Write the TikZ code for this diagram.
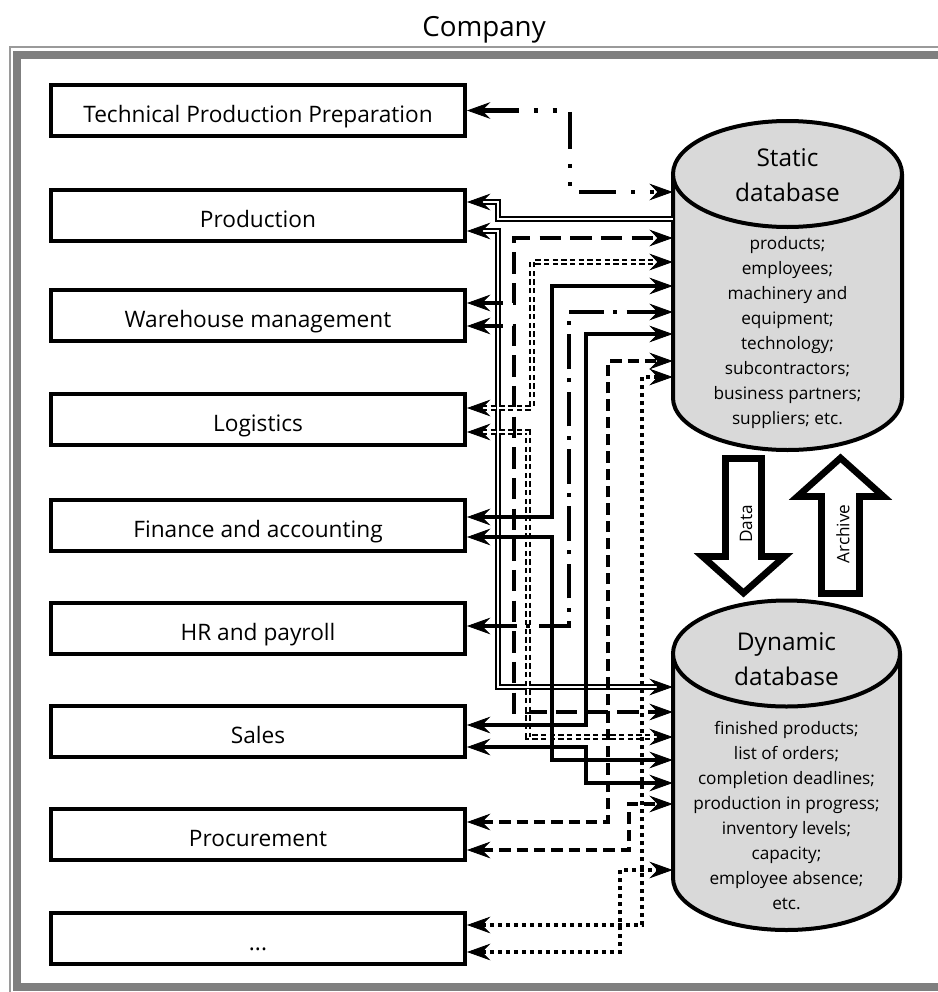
\documentclass[tikz,border=0pt]{standalone}
\usepackage{fontspec}
\setmainfont{Open Sans}
\usetikzlibrary{arrows.meta}
\definecolor{cylfill}{HTML}{D9D9D9}
\definecolor{framedark}{HTML}{7F7F7F}
\definecolor{framelight}{HTML}{9A9A9A}
\begin{document}
\begin{tikzpicture}[x=0.75pt,y=-0.75pt,
  >={Stealth[length=17.5pt,width=12.5pt,inset=6pt,line width=0.6pt]},
  deptbox/.style={draw, line width=3pt, minimum width=310.5pt, minimum height=38.25pt,
    inner sep=0pt, font=\fontsize{17}{20}\selectfont, text height=18pt, text depth=0pt},
  cyl/.style={fill=cylfill, draw=black, line width=3pt},
  cyltitle/.style={align=center, inner sep=0pt, font=\fontsize{18.3}{26.25}\selectfont},
  cyltext/.style={align=center, inner sep=0pt, font=\fontsize{12.9}{18.75}\selectfont},
  blockarrow/.style={draw=black, fill=white, line width=5pt, line join=miter, miter limit=10},
  arrowlabel/.style={rotate=90, inner sep=0pt, font=\fontsize{12.9}{15}\selectfont},
  prodline/.style={double, double distance=1.8pt, line width=1pt},
  whline/.style={line width=2.5pt, dash pattern=on 16pt off 7pt},
  logline/.style={double, double distance=1.6pt, line width=1.1pt, dash pattern=on 4pt off 2.5pt},
  finline/.style={line width=2.5pt},
  hrline/.style={line width=3.7pt, dash pattern=on 26pt off 7pt on 3pt off 7pt},
  tppline/.style={line width=3.7pt, dash pattern=on 28pt off 11pt on 3pt off 11pt on 3pt off 11pt},
  procline/.style={line width=2.3pt, dash pattern=on 8.5pt off 4.5pt},
  dotline/.style={line width=3pt, dash pattern=on 3pt off 3pt},
  framethin/.style={draw=framelight, line width=1.5pt},
  frameband/.style={draw=framedark, line width=6pt}
]
\path[use as bounding box, clip] (0,0) rectangle (938,992);
\fill[white] (0,0) rectangle (938,992);

% title and frame
\node[font=\fontsize{20.8}{24}\selectfont, inner sep=0pt] (company) at (484,30) {Company};
\draw[framethin] (10,47) rectangle (1000,1000);
\draw[frameband] (17,55) rectangle (990,987);

% department boxes
\node[deptbox] (tpp)   at (258,110.5) {Technical Production Preparation};
\node[deptbox] (prod)  at (258,215)   {Production};
\node[deptbox] (wh)    at (258,315)   {Warehouse management};
\node[deptbox] (logi)  at (258,419)   {Logistics};
\node[deptbox] (fin)   at (258,525)   {Finance and accounting};
\node[deptbox] (hr)    at (258,628.5) {HR and payroll};
\node[deptbox] (sales) at (258,731)   {Sales};
\node[deptbox] (proc)  at (258,834.5) {Procurement};
\node[deptbox] (etc)   at (258,938.5) {...};

% static database cylinder
\node[inner sep=0pt, minimum width=171.75pt, minimum height=247.5pt] (sdb) at (787.5,285) {};
\path[cyl] (673,174) -- (673,398)
  .. controls (673,426.7) and (724.3,450) .. (787.5,450)
  .. controls (850.7,450) and (902,426.7) .. (902,398) -- (902,174);
\path[cyl] (787.5,174) ellipse [x radius=114.5, y radius=53];
\node[cyltitle] (sdbtitle) at (787.5,175.5) {Static\\database};
\node[cyltext] (sdbtext) at (787.5,333) {products;\\employees;\\machinery and\\equipment;\\technology;\\subcontractors;\\business partners;\\suppliers; etc.};

% dynamic database cylinder
\node[inner sep=0pt, minimum width=170.25pt, minimum height=247.5pt] (ddb) at (786.5,765) {};
\path[cyl] (673,653.5) -- (673,878)
  .. controls (673,906.7) and (723.8,930) .. (786.5,930)
  .. controls (849.2,930) and (900,906.7) .. (900,878) -- (900,653.5);
\path[cyl] (786.5,653.5) ellipse [x radius=113.5, y radius=53];
\node[cyltitle] (ddbtitle) at (786.5,659.5) {Dynamic\\database};
\node[cyltext] (ddbtext) at (786.5,815.5) {finished products;\\list of orders;\\completion deadlines;\\production in progress;\\inventory levels;\\capacity;\\employee absence;\\etc.};

% Data / Archive block arrows
\path[blockarrow] (725.5,458.5) -- (761.5,458.5) -- (761.5,556.5) -- (784.5,556.5)
  -- (743.5,593) -- (702.5,556.5) -- (725.5,556.5) -- cycle;
\node[arrowlabel] (datalbl) at (746,524) {Data};
\path[blockarrow] (821.5,593.5) -- (859.5,593.5) -- (859.5,496.5) -- (883.5,496.5)
  -- (840.5,458) -- (797.5,496.5) -- (821.5,496.5) -- cycle;
\node[arrowlabel] (archlbl) at (843,534) {Archive};

% connectors
\draw[tppline,<->] (tpp.east) -| (570,192) -- (sdb.west |- 0,192);

\draw[prodline,<-] (prod.east |- 0,202) -| (498,219) -- (sdb.west |- 0,219);
\draw[prodline,<->] (prod.east |- 0,231) -| (498,687) -- (ddb.west |- 0,687);

\draw[whline,<->] (wh.east |- 0,303) -| (514,238) -- (sdb.west |- 0,238);
\draw[whline,<->] (wh.east |- 0,326) -| (514,712) -- (ddb.west |- 0,712);

\draw[logline,<->] (logi.east |- 0,408) -| (532,262) -- (sdb.west |- 0,262);
\draw[logline,<->] (logi.east |- 0,432) -| (528,737) -- (ddb.west |- 0,737);

\draw[finline,<->] (fin.east |- 0,517) -| (552,286) -- (sdb.west |- 0,286);
\draw[finline,<->] (fin.east |- 0,537) -| (552,760) -- (ddb.west |- 0,760);

\draw[hrline,<->] (hr.east |- 0,626) -| (569,312) -- (sdb.west |- 0,312);

\draw[finline,<->] (sales.east |- 0,725) -| (586,334) -- (sdb.west |- 0,334);
\draw[finline,<->] (sales.east |- 0,747) -| (586,783) -- (ddb.west |- 0,783);

\draw[procline,<->] (proc.east |- 0,822) -| (608,361) -- (sdb.west |- 0,361);
\draw[procline,<->] (proc.east |- 0,850) -| (629,804) -- (ddb.west |- 0,804);

\draw[dotline,<->] (etc.east |- 0,925) -| (642,377) -- (sdb.west |- 0,377);
\draw[dotline,<->] (etc.east |- 0,952) -| (620,870) -- (ddb.west |- 0,870);
\end{tikzpicture}
\end{document}
